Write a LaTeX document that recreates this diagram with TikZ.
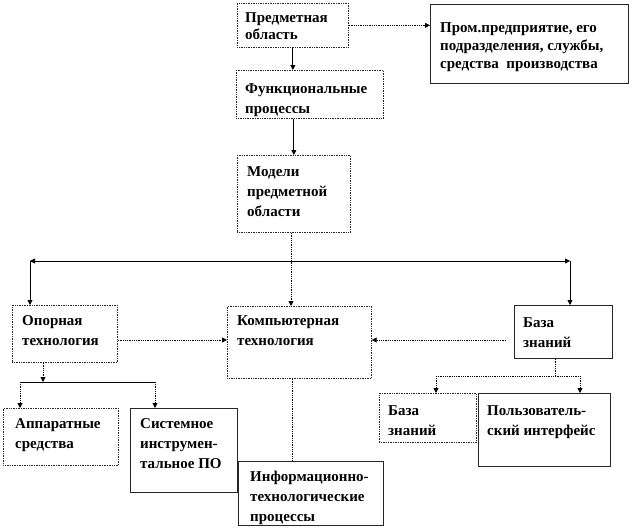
\documentclass[tikz,border=0pt]{standalone}
\usepackage{fontspec}
\setmainfont{Liberation Serif}
\usetikzlibrary{arrows.meta, positioning, calc}
\tikzset{
    box/.style={rectangle, draw=black!85, line width=0.7pt, anchor=north west, inner sep=0pt},
    dbox/.style={box, densely dotted},
    txt/.style={anchor=north west, inner sep=0pt, align=left,
                font=\fontsize{15}{20}\selectfont\bfseries},
    arrow/.style={line width=0.8pt, -{Triangle[length=5pt,width=5pt]}},
    link/.style={line width=0.8pt, densely dotted}
}

\begin{document}
\begin{tikzpicture}[x=1pt, y=-1pt]
    \useasboundingbox (0,0) rectangle (633,528);

    % Top boxes
    \node[dbox, minimum width=111, minimum height=44] (predm) at (237,3) {};
    \node[txt, font=\fontsize{15}{17}\selectfont\bfseries] (predmt) at (245,12) {Предметная\\область};
    \node[box, minimum width=198, minimum height=79] (prom) at (430,4) {};
    \node[txt, font=\fontsize{15}{18}\selectfont\bfseries] (promt) at (440,22) {Пром.предприятие, его\\подразделения, службы,\\средства\ \ производства};
    \node[dbox, minimum width=147, minimum height=48] (func) at (236,70) {};
    \node[txt] (funct) at (245,83) {Функциональные\\процессы};
    \node[dbox, minimum width=113, minimum height=77] (model) at (237,155) {};
    \node[txt] (modelt) at (247,166) {Модели\\предметной\\области};

    % Middle row
    \node[dbox, minimum width=105, minimum height=57] (opor) at (12,305) {};
    \node[txt] (oport) at (22,315) {Опорная\\технология};
    \node[dbox, minimum width=144, minimum height=72] (comp) at (227,306) {};
    \node[txt] (compt) at (237,315) {Компьютерная\\технология};
    \node[box, minimum width=98, minimum height=53] (baza) at (514,305) {};
    \node[txt] (bazat) at (523,317) {База\\знаний};

    % Bottom boxes
    \node[dbox, minimum width=115, minimum height=57] (appar) at (3,408) {};
    \node[txt] (appart) at (15,418) {Аппаратные\\средства};
    \node[box, minimum width=107, minimum height=84] (sys) at (130,408) {};
    \node[txt] (syst) at (140,418) {Системное\\инструмен-\\тальное ПО};
    \node[box, minimum width=145, minimum height=64] (info) at (238,461) {};
    \node[txt] (infot) at (250,471) {Информационно-\\технологические\\процессы};
    \node[dbox, minimum width=97, minimum height=49] (baza2) at (379,393) {};
    \node[txt] (baza2t) at (388,405) {База\\знаний};
    \node[box, minimum width=132, minimum height=73] (user) at (478,393) {};
    \node[txt] (usert) at (487,405) {Пользователь-\\ский интерфейс};

    % Branch points
    \coordinate (split) at (291,261);
    \coordinate (lcorn) at (30,261);
    \coordinate (rcorn) at (570,261);
    \coordinate (row) at (0,340);
    \coordinate (ctop) at (291,0);
    \coordinate (cbot) at (292,0);
    \coordinate (omid) at (43,382);
    \coordinate (oleft) at (20,382);
    \coordinate (oright) at (155,382);
    \coordinate (bmid) at (555,376);
    \coordinate (bleft) at (436,376);
    \coordinate (bright) at (580,376);

    % Top connectors
    \draw[arrow] (predm.south) -- (predm.south |- func.north);
    \draw[arrow, densely dotted] (predm.east) -- (predm.east -| prom.west);
    \draw[arrow] (func.south -| model.north) -- (model.north);
    \draw[arrow, link] (model.south -| ctop) -- (comp.north -| ctop);

    % Distribution line
    \draw[arrow] (split) -- (lcorn);
    \draw[arrow] (split) -- (rcorn);
    \draw[arrow] (lcorn) -- (lcorn |- opor.north);
    \draw[arrow] (rcorn) -- (rcorn |- baza.north);

    % Into computer technology
    \draw[arrow, link] (opor.east |- row) -- (comp.west |- row);
    \draw[arrow, link, shorten <=8pt] (baza.west |- row) -- (comp.east |- row);
    \draw[link] (comp.south -| cbot) -- (info.north -| cbot);

    % Left branch
    \draw[arrow, link] (opor.south -| omid) -- (omid);
    \draw[line width=0.8pt] (oleft) -- (oright);
    \draw[arrow, link] (oleft) -- (oleft |- appar.north);
    \draw[arrow, link] (oright) -- (oright |- sys.north);

    % Right branch
    \draw[link] (baza.south -| bmid) -- (bmid);
    \draw[link] (bleft) -- (bright);
    \draw[arrow, link] (bleft) -- (bleft |- baza2.north);
    \draw[arrow, link] (bright) -- (bright |- user.north);
\end{tikzpicture}
\end{document}
